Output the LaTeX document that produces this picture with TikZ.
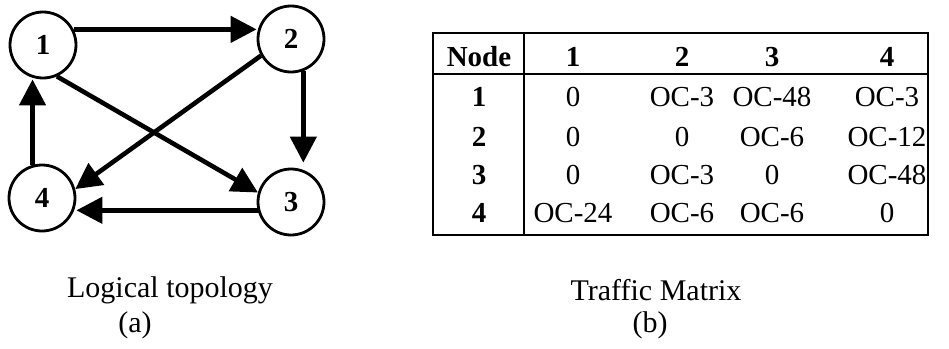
\documentclass[tikz,border=0pt]{standalone}
\usepackage{fontspec}
\setmainfont{Liberation Serif}
\usetikzlibrary{shapes.geometric,arrows.meta}
\tikzset{
  vtx/.style={circle,draw,line width=2.8pt,minimum size=66pt,inner sep=0pt,font=\fontsize{29}{29}\selectfont\bfseries},
  arr/.style={line width=4.6pt,-{Triangle[length=26pt,width=26pt]}},
  cell/.style={font=\fontsize{29}{29}\selectfont,inner sep=0pt,anchor=center},
  hcell/.style={cell,font=\fontsize{29}{29}\selectfont\bfseries},
  captext/.style={font=\fontsize{30}{30}\selectfont,inner sep=0pt},
  tline/.style={line width=1.6pt}
}
\begin{document}
\begin{tikzpicture}[x=1pt,y=-1pt]
\useasboundingbox (0,0) rectangle (949,348);
% graph
\node[vtx] (n1) at (43,45) {1};
\node[vtx] (n2) at (291,39) {2};
\node[vtx] (n3) at (291,202) {3};
\node[vtx] (n4) at (42,198) {4};
\draw[arr] (n1.27) -- (n1.27 -| n2.west);
\draw[arr,shorten >=5pt] (n2.-69) -- (n2.-69 |- n3.north);
\draw[arr] (n3.194) -- (n3.194 -| n4.east);
\draw[arr] (n4.106) -- (n4.106 |- n1.south);
\draw[arr] (n2.209) -- (n4.15);
\draw[arr] (n1.-66) -- (n3.164);
% table
\coordinate (tl) at (433,33);
\coordinate (br) at (928,235);
\draw[tline] (tl) rectangle (br);
\coordinate (hl) at (433,74);
\coordinate (hr) at (928,74);
\draw[tline] (hl) -- (hr);
\coordinate (vt) at (524,33);
\coordinate (vb) at (524,235);
\draw[tline] (vt) -- (vb);
\node[hcell] (h0) at (479,57) {Node};
\node[hcell] (h1) at (573,57) {1};
\node[hcell] (h2) at (682,57) {2};
\node[hcell] (h3) at (772,57) {3};
\node[hcell] (h4) at (887,57) {4};
\foreach \r/\y/\a/\b/\c/\d in {1/97/0/OC-3/OC-48/OC-3, 2/137/0/0/OC-6/OC-12, 3/175/0/OC-3/0/OC-48, 4/213/OC-24/OC-6/OC-6/0}{
  \node[hcell] (r\r c0) at (479,\y) {\r};
  \node[cell] (r\r c1) at (573,\y) {\a};
  \node[cell] (r\r c2) at (682,\y) {\b};
  \node[cell] (r\r c3) at (772,\y) {\c};
  \node[cell] (r\r c4) at (887,\y) {\d};
}
% captions
\node[captext] (capa) at (170,290) {Logical topology};
\node[captext] (suba) at (135,325) {(a)};
\node[captext] (capb) at (656,290) {Traffic Matrix};
\node[captext] (subb) at (650,325) {(b)};
\end{tikzpicture}
\end{document}
